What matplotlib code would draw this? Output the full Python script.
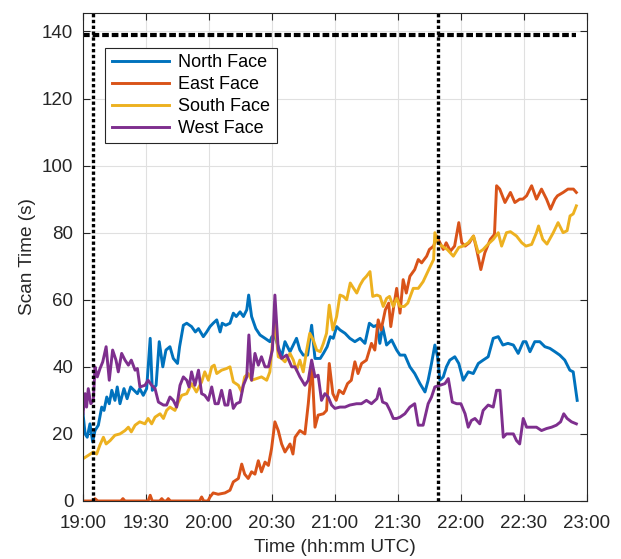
import matplotlib
matplotlib.use("Agg")
import matplotlib.pyplot as plt

plt.rcParams['font.family'] = ['Liberation Sans', 'DejaVu Sans']

# Scan time per radar face; (minutes after 19:00 UTC, seconds)
NORTH = [(0, 26), (1, 20), (2, 19), (3.3, 23), (4.6, 17.6), (5.7, 21), (7.3, 22.6), (8.9, 28),
         (10, 27), (11.3, 31), (12.5, 29), (13.7, 33), (15.2, 30), (16.3, 34), (17.6, 29),
         (19.5, 33.5), (21, 30.5), (22.7, 34), (24.3, 33), (25.9, 32), (27, 33.5), (28.7, 31.5),
         (30.3, 33.5), (32, 48.5), (33, 33), (34.8, 34.5), (36.3, 47.5), (38, 40), (39.5, 45),
         (41.4, 46), (43, 42.5), (45, 41), (46, 46), (47.8, 52.4), (49.4, 53), (51.7, 52),
         (53.5, 50.4), (55, 51.4), (57.3, 49), (58.9, 50.4), (60.5, 52), (62, 53), (63.7, 54),
         (65.3, 50.4), (66.3, 53), (68, 52.4), (70, 53), (71.6, 56), (73, 55), (74.8, 56.4),
         (76.4, 55), (78, 57), (78.9, 61.4), (80.3, 55), (82.3, 51.4), (84.3, 49.5), (86.7, 48.5),
         (89, 47.5), (90, 49), (91.4, 49), (93, 46), (94.6, 43), (96.2, 47.5), (98.6, 44.5),
         (101.7, 48.5), (103.3, 45), (104.9, 43.5), (107, 43.5), (108.9, 52.4), (110.5, 42.5),
         (113, 42.5), (114.5, 44), (116.3, 46), (117.8, 49), (119.2, 48.5), (120.8, 52),
         (122.4, 51), (124.8, 50), (127.1, 48.5), (129.5, 47.5), (132, 48.5), (134.3, 47),
         (136.4, 53), (138.4, 52), (140, 52.4), (141.4, 47), (142.7, 52), (144.6, 46.5),
         (147, 48), (149.4, 45), (151, 43.5), (153.3, 43.5), (155.7, 40), (158, 38), (160.5, 35),
         (162.9, 32.5), (164.4, 36), (166, 41), (167.6, 46.5), (168.9, 43), (170, 36), (171.6, 37),
         (173.1, 40), (174.7, 42), (177.1, 43), (179, 41), (181.1, 36), (183.5, 38.5), (185.9, 38),
         (188.3, 41), (190.6, 42), (193, 43), (195.4, 48.5), (197.8, 49), (200, 46.5), (202.4, 47),
         (205, 46.5), (207.3, 44), (209.7, 47.5), (211, 47.5), (212.9, 44.5), (215.2, 47.5),
         (217.6, 47.5), (220, 46), (222.4, 45.5), (224.8, 44.5), (227.1, 43.5), (229.5, 42),
         (231.9, 39), (233.5, 38.5), (235.4, 30)]

EAST = [(0, 0), (4.5, 0), (5.7, 0.7), (7, 0), (18, 0), (19, 0.7), (20, 0), (31, 0), (32, 1.7),
        (33, 0), (36.5, 0), (37.5, 0.7), (38.5, 0), (39.7, 0), (40.6, 0.7), (41.6, 0), (55.5, 0),
        (56.5, 1.2), (57.5, 0), (59.5, 0), (60.5, 1.2), (62, 2.4), (64.4, 2), (67.6, 2.4),
        (70, 3.2), (71.6, 5.7), (74, 6.7), (75.6, 11), (77, 8), (78.7, 6.7), (80.3, 8.7),
        (81.9, 8), (83.5, 12), (85, 8.7), (86.7, 11.6), (88.3, 10.6), (89.8, 15.6), (91.4, 23.6),
        (93, 21), (94.6, 17), (96.2, 14.6), (98.6, 17), (100, 14), (101, 19), (103.3, 21),
        (105.7, 20), (107.3, 29), (109, 41), (110.5, 22), (112, 25.6), (114.5, 26), (116, 27),
        (117.3, 41), (119, 32), (120.6, 30), (122, 33), (124, 32), (126, 35), (127.8, 36),
        (129.5, 41.5), (131, 38), (132.7, 41), (135, 42), (137.4, 47), (139, 45), (140.6, 54),
        (142, 51), (144, 57), (145.6, 59), (146.6, 52), (148, 58), (149.4, 63.4), (151, 56),
        (152.5, 66), (154, 62), (155.7, 67), (158, 69), (159.7, 72), (161.3, 71), (163.7, 73),
        (165, 75), (167, 76), (168.6, 79), (170, 77), (171.6, 75), (173, 77), (175, 74.5),
        (177, 76), (179, 83), (180.4, 77), (182, 76), (184, 77), (186, 79), (187.5, 75),
        (189.5, 69), (191.4, 74), (194, 78), (196, 79.5), (197, 94), (198.5, 93), (201, 89),
        (203.6, 92), (205.7, 89), (208, 90), (209.5, 90), (211.3, 91), (213.7, 94), (216, 90),
        (218.4, 93), (220.8, 90), (222.7, 87), (224.8, 90), (226, 91), (228.7, 92), (231, 93),
        (233.6, 93), (235, 92)]

SOUTH = [(0, 12.6), (2.5, 13.6), (4.9, 14.6), (6.5, 14), (8, 16.6), (9.7, 19), (11, 17),
         (12.9, 18), (15.2, 19.6), (17.6, 20), (20, 21), (21.6, 22), (23, 20.6), (24.8, 22.6),
         (27, 23.6), (29.5, 23), (31, 24.6), (32.7, 23), (34.3, 25), (36.7, 26), (38.3, 24.6),
         (39.8, 27), (41.4, 28), (43.8, 27), (45.4, 29.5), (47, 31.5), (49.4, 32), (51.7, 35),
         (54, 32.5), (56.5, 35.5), (58, 38.5), (59.7, 36), (61.3, 40), (62.5, 40.5), (63.7, 38),
         (66, 39), (68.4, 39.5), (70, 40), (71.6, 35.5), (74, 34.5), (75.6, 32.5), (77, 37),
         (78.7, 38), (80.3, 36), (82.7, 36.5), (85, 37), (87.5, 36), (89, 38.5), (90.2, 47),
         (91.4, 54), (93, 43), (94.6, 42.5), (96.2, 41.5), (98.6, 44), (100.2, 42), (101.7, 39),
         (103.3, 42), (104.9, 38.5), (106.4, 44.5), (108, 50), (109.7, 48), (111.3, 45),
         (113, 44.5), (114.5, 47), (116, 50), (117.3, 58.4), (119, 51), (120.8, 55), (122.4, 61.4),
         (124, 61), (125.6, 60), (127.3, 65), (128.8, 63.5), (130.4, 62), (132, 64.4), (133.5, 66),
         (135, 67), (136.7, 68.4), (138, 61), (140, 61.4), (141.5, 61), (143, 58), (144.6, 60.4),
         (146, 61), (147.8, 58), (149.4, 60.4), (151, 58), (153, 58), (154.7, 59), (157.3, 63.4),
         (159.7, 63.4), (162, 65.4), (163.5, 67.4), (165, 69.4), (167, 72), (167.6, 80), (169, 77),
         (171, 76), (173.5, 75), (176.4, 73), (179, 75.6), (181, 76), (183.5, 77), (186, 79),
         (188.3, 74), (190.6, 75), (193, 76.6), (195.4, 78), (197.8, 80), (199.4, 76),
         (201.7, 80), (203.6, 80.3), (206.5, 79), (209, 77), (211, 76), (213.7, 76.5), (216, 80),
         (217, 82), (219, 78), (221, 76.6), (224, 80), (226.3, 83), (228.7, 80), (230.6, 80.6),
         (232, 85), (233.5, 85.6), (235, 88)]

WEST = [(0, 26), (1, 32), (1.7, 28), (2.5, 33.5), (3.7, 29), (4.9, 30), (5.7, 40), (6.8, 37),
        (8.1, 39.5), (9.4, 41.5), (11, 46), (12.5, 36), (14.1, 45), (15.7, 42), (16.8, 38.5),
        (18.4, 44), (20, 42), (21.6, 40.5), (23, 42), (24.8, 39), (25.9, 39.5), (27.1, 34),
        (29.5, 34.5), (31, 36), (32.7, 34.5), (34.3, 33.5), (35.9, 29.5), (38.3, 28.6),
        (39.8, 28.6), (41.4, 31), (43, 30), (44.6, 28), (46.2, 34.5), (47.8, 37), (49.4, 36),
        (50.5, 34), (51.7, 38.5), (53.3, 34.5), (55, 39), (56.5, 32), (58, 31.5), (59.7, 30),
        (61.3, 34), (62.9, 29), (64.4, 29), (66, 33), (67.6, 28.6), (69, 28.6), (70, 33),
        (71.6, 27.6), (73, 29), (74.8, 29.5), (76.4, 34.5), (78, 37), (79, 49.5), (80.3, 36),
        (81.9, 44), (83.5, 40.5), (85, 43), (86.7, 40), (88.3, 40), (90.2, 45), (91.4, 61.4),
        (93, 45), (94.6, 42.5), (97, 43.5), (99.4, 40), (101, 40), (103.3, 37), (105.7, 34.5),
        (107.3, 36), (108.9, 42), (110.5, 37), (112, 37.5), (113.6, 30), (115.2, 32), (116.8, 31),
        (118.4, 28.6), (120, 27.6), (122.4, 28), (124.8, 28), (127.1, 28.6), (130.3, 29),
        (132.6, 29), (135, 30), (137.4, 29), (140, 30.5), (141.2, 33.5), (142.7, 29.5),
        (144.6, 29), (146.2, 27), (147.8, 24.6), (149.4, 24.6), (151, 25), (153.3, 26),
        (155.7, 28), (158, 29), (159.7, 22.6), (162, 22.6), (164.4, 29), (166, 31), (167.6, 34),
        (170, 34.5), (172.4, 35), (174, 36.5), (175.9, 29.5), (178, 29), (180, 29), (182, 26),
        (183.5, 22), (185, 24), (186.7, 24.6), (189, 23), (190.6, 27), (193, 28.6), (195.4, 28),
        (197, 33), (198.6, 33), (200.2, 19), (201.7, 20), (203.3, 20), (205, 20), (206.5, 18),
        (208, 17), (209.7, 24.6), (211.3, 22), (213.7, 22), (216, 22), (218.4, 21), (220.8, 21.6),
        (223.2, 22), (225.5, 22.6), (227.5, 23.6), (229, 26), (230.6, 24.6), (232.7, 23.6),
        (235, 23)]

SERIES = [("North Face", NORTH, "#0072BD"),
          ("East Face", EAST, "#D95319"),
          ("South Face", SOUTH, "#EDB120"),
          ("West Face", WEST, "#7E2F8E")]

TICK_MINUTES = [0, 30, 60, 90, 120, 150, 180, 210, 240]
TICK_LABELS = ["19:00", "19:30", "20:00", "20:30", "21:00", "21:30", "22:00", "22:30", "23:00"]

SCAN_LIMIT = 139          # seconds, horizontal reference
EVENT_MINUTES = [4.9, 168.9]  # vertical reference times
LIMIT_END = 235

fig = plt.figure(figsize=(6.21, 5.59), dpi=100)
ax = fig.add_axes([0.1337, 0.1038, 0.8113, 0.8729])

for name, data, color in SERIES:
    t = [p[0] for p in data]
    v = [p[1] for p in data]
    ax.plot(t, v, color=color, lw=2.1, label=name, solid_joinstyle='round')

ax.plot([0, LIMIT_END], [SCAN_LIMIT, SCAN_LIMIT], color='black', lw=3.0,
        dashes=(1.6, 0.7), solid_capstyle='butt', dash_capstyle='butt')
for m in EVENT_MINUTES:
    ax.plot([m, m], [0, 146], color='black', lw=2.4, dashes=(1.0, 0.75),
            dash_capstyle='butt')

ax.set_xlim(0, 240)
ax.set_ylim(0, 145.5)
ax.set_xticks(TICK_MINUTES)
ax.set_xticklabels(TICK_LABELS)
ax.set_yticks([0, 20, 40, 60, 80, 100, 120, 140])
ax.grid(True, color='#e0e0e0', lw=0.8)
ax.set_axisbelow(True)
ax.tick_params(direction='in', length=5, width=0.8, top=True, right=True,
               labelsize=13.5, colors='#262626')
ax.tick_params(axis='x', pad=10)
ax.tick_params(axis='y', pad=7)
for s in ax.spines.values():
    s.set_color('#262626')
    s.set_linewidth(0.8)

ax.set_xlabel("Time (hh:mm UTC)", fontsize=13.7, color='#262626', labelpad=5)
ax.set_ylabel("Scan Time (s)", fontsize=13.7, color='#262626', labelpad=4)

handles, labels = ax.get_legend_handles_labels()
leg = ax.legend(handles[:4], labels[:4], loc='upper left',
                bbox_to_anchor=(0.044, 0.929), fontsize=13, frameon=True,
                fancybox=False, edgecolor='#262626', framealpha=1,
                handlelength=3.2, handletextpad=0.5, labelspacing=0.28,
                borderpad=0.35, borderaxespad=0)
leg.get_frame().set_linewidth(0.8)

fig.savefig("out.png", dpi=100)
